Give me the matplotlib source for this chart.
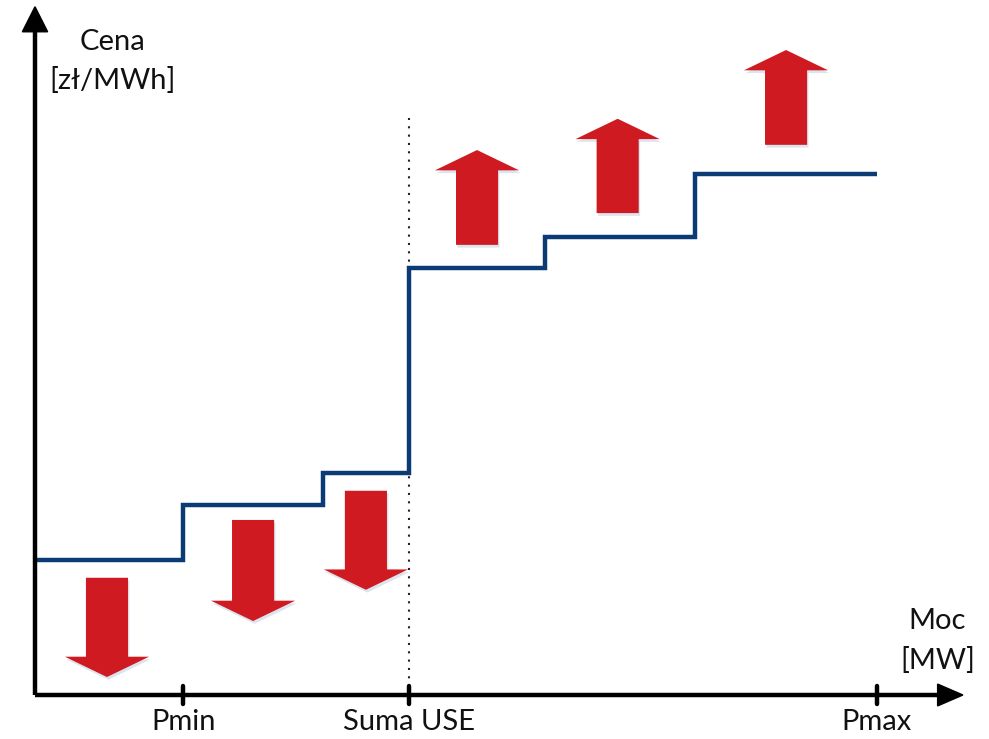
import numpy as np
import matplotlib
matplotlib.use("Agg")
import matplotlib.pyplot as plt
from matplotlib.patches import Polygon
import matplotlib.patheffects as pe

plt.rcParams['font.family'] = ['Lato', 'DejaVu Sans']

# step curve: power edges [MW units] and price levels
edges = [0, 17.6, 34.2, 44.4, 60.6, 78.4, 100.0]
prices = [26.0, 36.5, 42.6, 82.0, 88.0, 100.0]

# x-axis ticks
tick_pos = [17.6, 44.4, 100.0]
tick_labels = ['Pmin', 'Suma USE', 'Pmax']

# red arrows: centre x, tail y, tip y
down_x = [8.55, 25.9, 39.3]
down_tail = [22.5, 33.6, 39.2]
down_tip = [3.45, 14.2, 20.2]
up_x = [52.5, 69.2, 89.2]
up_tail = [86.4, 92.5, 105.6]
up_tip = [104.6, 110.6, 123.8]

RED = '#CE1A20'
NAVY = '#0B3B74'
FS = 21


def block_arrow(ax, x, y0, y1, shaft=5.0, head=10.0, head_len=3.9):
    d = np.sign(y1 - y0)
    yb = y1 - d * head_len
    verts = [(x - shaft / 2, y0), (x + shaft / 2, y0), (x + shaft / 2, yb),
             (x + head / 2, yb), (x, y1), (x - head / 2, yb), (x - shaft / 2, yb)]
    p = Polygon(verts, closed=True, facecolor=RED, edgecolor='none', zorder=3)
    p.set_path_effects([pe.SimplePatchShadow(offset=(1, -2), shadow_rgbFace='#9fb4d0', alpha=0.35),
                        pe.Normal()])
    ax.add_patch(p)


fig = plt.figure(figsize=(9.89, 7.39), dpi=100)
ax = fig.add_axes([0, 0, 1, 1])
ax.axis('off')
ax.set_xlim(-35 / 8.42, (989 - 35) / 8.42)
ax.set_ylim(-(739 - 695) / 5.21, 695 / 5.21)

# axes with arrowheads
ax.plot([0, 0], [0, 127.5], color='black', lw=3.2, solid_capstyle='butt', zorder=4)
ax.plot([0, 107.4], [0, 0], color='black', lw=3.2, solid_capstyle='butt', zorder=4)
ax.add_patch(Polygon([(-1.5, 127.3), (1.5, 127.3), (0, 132.1)], closed=True,
                     color='black', zorder=4))
ax.add_patch(Polygon([(107.2, 2.1), (107.2, -2.1), (110.2, 0)], closed=True,
                     color='black', zorder=4))

# ticks and labels
for xp, lab in zip(tick_pos, tick_labels):
    ax.plot([xp, xp], [-1.7, 1.7], color='black', lw=3.2, solid_capstyle='round', zorder=4)
    ax.text(xp, -5.2, lab, ha='center', va='center', fontsize=FS, color='#111111')

# dotted line at Suma USE
ax.plot([tick_pos[1], tick_pos[1]], [0, 110.7], color='#222222', lw=1.5,
        linestyle=(0, (1, 3)), zorder=2)

# step curve
ax.stairs(prices, edges, baseline=None, color=NAVY, lw=3.2, zorder=3)

for x, a, b in zip(down_x, down_tail, down_tip):
    block_arrow(ax, x, a, b)
for x, a, b in zip(up_x, up_tail, up_tip):
    block_arrow(ax, x, a, b)

# axis titles
ax.text(9.26, 125.3, 'Cena', ha='center', va='center', fontsize=FS, color='#111111')
ax.text(9.26, 118.0, '[zł/MWh]', ha='center', va='center', fontsize=FS, color='#111111')
ax.text(107.2, 14.2, 'Moc', ha='center', va='center', fontsize=FS, color='#111111')
ax.text(107.2, 6.7, '[MW]', ha='center', va='center', fontsize=FS, color='#111111')

fig.savefig('out.png', dpi=100)
